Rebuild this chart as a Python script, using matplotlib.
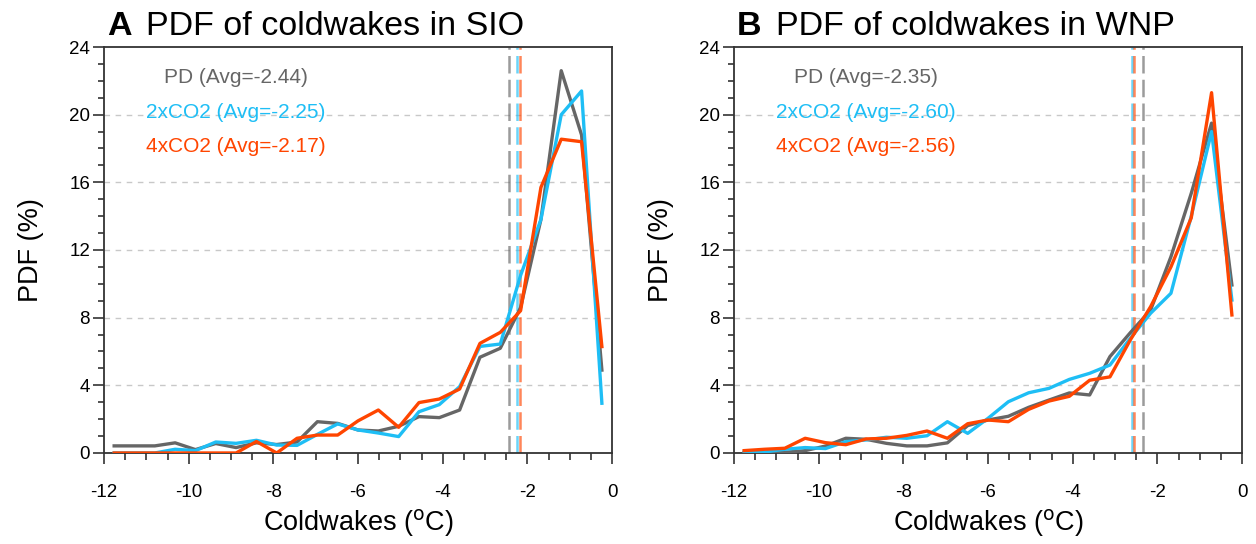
import matplotlib
matplotlib.use("Agg")
import matplotlib.pyplot as plt
from matplotlib.ticker import MultipleLocator

plt.rcParams['font.family'] = ['Liberation Sans', 'DejaVu Sans']
plt.rcParams['axes.unicode_minus'] = False

# bin centres of the coldwake PDF (deg C)
bins = [-11.76, -11.28, -10.80, -10.32, -9.84, -9.36, -8.88, -8.40, -7.92,
        -7.44, -6.96, -6.48, -6.00, -5.52, -5.04, -4.56, -4.08, -3.60,
        -3.12, -2.64, -2.16, -1.68, -1.20, -0.72, -0.24]

# SIO
sio_pd = [0.42, 0.42, 0.42, 0.60, 0.20, 0.56, 0.32, 0.60, 0.50, 0.65, 1.85, 1.75,
          1.36, 1.30, 1.58, 2.15, 2.09, 2.54, 5.66, 6.19, 8.60, 13.8, 22.6, 18.8, 4.90]
sio_2x = [0.0, 0.0, 0.0, 0.22, 0.14, 0.65, 0.57, 0.75, 0.47, 0.45, 1.10, 1.72,
          1.36, 1.18, 0.97, 2.44, 2.86, 3.92, 6.30, 6.44, 10.5, 13.8, 20.0, 21.4, 2.94]
sio_4x = [0.0, 0.0, 0.0, 0.0, 0.0, 0.0, 0.0, 0.68, 0.0, 0.87, 1.06, 1.06,
          1.90, 2.54, 1.52, 2.98, 3.19, 3.78, 6.48, 7.13, 8.41, 15.7, 18.55, 18.4, 6.29]
sio_avg = [-2.44, -2.25, -2.17]

# WNP
wnp_pd = [0.02, 0.02, 0.04, 0.14, 0.41, 0.87, 0.81, 0.57, 0.42, 0.42, 0.60, 1.62,
          1.95, 2.17, 2.70, 3.13, 3.55, 3.43, 5.70, 7.11, 8.45, 11.6, 15.35, 19.5, 9.93]
wnp_2x = [0.06, 0.06, 0.22, 0.32, 0.26, 0.67, 0.77, 0.93, 0.87, 1.02, 1.85, 1.16,
          2.05, 3.03, 3.56, 3.82, 4.35, 4.71, 5.20, 6.78, 8.26, 9.44, 14.0, 19.0, 9.04]
wnp_4x = [0.14, 0.22, 0.28, 0.87, 0.61, 0.49, 0.83, 0.87, 1.04, 1.30, 0.87, 1.73,
          1.95, 1.85, 2.58, 3.07, 3.35, 4.30, 4.50, 6.68, 8.65, 11.0, 13.9, 21.3, 8.16]
wnp_avg = [-2.35, -2.60, -2.56]

names = ['PD', '2xCO2', '4xCO2']
colors = ['#666666', '#1ebef5', '#ff4500']

fig = plt.figure(figsize=(12.56, 5.44), dpi=100)
axA = fig.add_axes([0.0828, 0.1673, 0.4045, 0.7463])
axB = fig.add_axes([0.5844, 0.1673, 0.4045, 0.7463])


def panel(ax, series, avgs, letter, region):
    for g in range(4, 24, 4):
        ax.axhline(g, color='#c8c8c8', lw=1.0, ls=(0, (4, 4)), zorder=0)
    for a, c in zip(avgs, colors):
        ax.axvline(a, color=c, lw=1.8, ls=(0, (7, 2.5)), alpha=0.65, zorder=1)
    for s, c in zip(series, colors):
        ax.plot(bins, s, color=c, lw=2.4, zorder=3)
    for k, (n, a, c) in enumerate(zip(names, avgs, colors)):
        ax.text(-8.88, 22.2 - 2.05 * k, f'{n} (Avg={a:.2f})', color=c,
                fontsize=15, ha='center', va='center', zorder=4)

    ax.set_xlim(-12, 0)
    ax.set_ylim(0, 24)
    ax.xaxis.set_major_locator(MultipleLocator(2))
    ax.xaxis.set_minor_locator(MultipleLocator(0.5))
    ax.yaxis.set_major_locator(MultipleLocator(4))
    ax.yaxis.set_minor_locator(MultipleLocator(1))
    ax.tick_params(which='both', direction='out', color='#333333', width=1.2,
                   labelsize=13.5, top=False, right=False)
    ax.tick_params(axis='x', which='major', length=8, pad=14)
    ax.tick_params(axis='x', which='minor', length=5)
    ax.tick_params(axis='y', which='major', length=8, pad=2)
    ax.tick_params(axis='y', which='minor', length=4)
    for sp in ax.spines.values():
        sp.set_color('#333333')
        sp.set_linewidth(1.3)

    ax.set_xlabel(r'Coldwakes ($^{\mathrm{o}}$C)', fontsize=19.5, labelpad=5)
    ax.set_ylabel('PDF (%)', fontsize=19.5, labelpad=18)
    ax.text(0.006, 1.03, letter, transform=ax.transAxes, fontsize=24.5,
            fontweight='bold', va='baseline', ha='left')
    ax.text(0.083, 1.03, f'PDF of coldwakes in {region}', transform=ax.transAxes,
            fontsize=24.5, va='baseline', ha='left')


panel(axA, [sio_pd, sio_2x, sio_4x], sio_avg, 'A', 'SIO')
panel(axB, [wnp_pd, wnp_2x, wnp_4x], wnp_avg, 'B', 'WNP')

fig.savefig('out.png', dpi=100)
